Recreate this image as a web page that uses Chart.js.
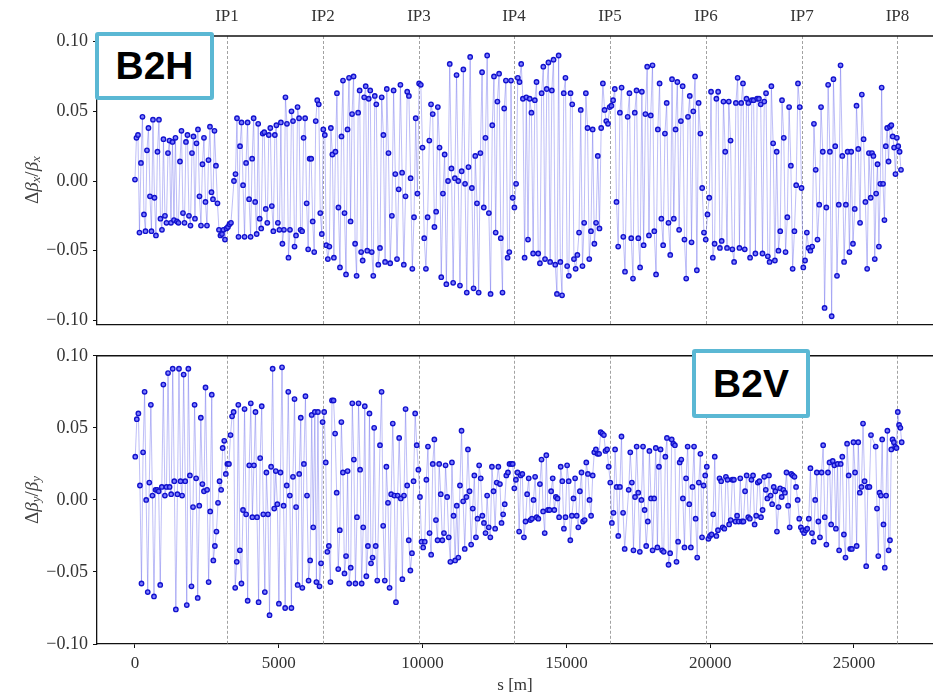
<!DOCTYPE html>
<html lang="en">
<head>
<meta charset="UTF-8">
<title>Beta beating B2</title>
<script src="https://cdn.jsdelivr.net/npm/chart.js"></script>
<style>
    body { margin: 0; background: #fff; }
    .wrap { position: relative; width: 933px; height: 695px; overflow: hidden; }
    .panel { position: absolute; left: 0; width: 933px; }
    #top { top: 0; height: 340px; }
    #bottom { top: 340px; height: 355px; }
    .tag {
        position: absolute;
        box-sizing: border-box;
        border: 4px solid #5bb8d4;
        border-radius: 3px;
        background: #fff;
        font-family: 'Liberation Sans', Arial, sans-serif;
        font-weight: bold;
        font-size: 39px;
        color: #000;
        display: flex;
        align-items: center;
        justify-content: center;
    }
</style>
</head>
<body>
<div class="wrap">
    <div class="panel" id="top"><canvas id="chart-x"></canvas></div>
    <div class="panel" id="bottom"><canvas id="chart-y"></canvas></div>
    <div class="tag" style="left:95px; top:32px; width:119px; height:68px;">B2H</div>
    <div class="tag" style="left:692px; top:349px; width:118px; height:69px;">B2V</div>
</div>
<script>
    const ipNames = ['IP1', 'IP2', 'IP3', 'IP4', 'IP5', 'IP6', 'IP7', 'IP8'];
    const ipS = [3200, 6537, 9875, 13178, 16516, 19854, 23192, 26512];
    const xTicks = [0, 5000, 10000, 15000, 20000, 25000];
    const yTicks = [-0.1, -0.05, 0, 0.05, 0.1];

    // horizontal plane, BPM readings grouped in stretches (first/last s of each stretch)
    const bxStart = [0, 3442, 8460, 17131, 25626];
    const bxEnd = [3338, 8391, 17038, 25581, 26634];
    const bx1 = [0.001, 0.031, 0.033, -0.037, 0.013, 0.046, -0.024, -0.036, 0.022, 0.038, -0.011, -0.036, 0.044, -0.012, -0.039, 0.021, 0.044, -0.027, -0.035, 0.030, -0.025, -0.030, 0.020, 0.029, -0.030, 0.028, -0.028, 0.031, -0.029, -0.030, 0.014, 0.036, -0.023, -0.030, 0.028, 0.033, -0.025, -0.032, 0.020, 0.032, -0.027, 0.027, 0.037, -0.011, -0.032, 0.012, 0.031, -0.015, -0.032, 0.015, 0.039, -0.008, -0.013, 0.036, 0.011, -0.016, -0.035, -0.039, -0.038, -0.035, -0.042, -0.034, -0.033, -0.031, -0.030];
    const bx2 = [0.000, 0.005, 0.045, -0.040, 0.025, 0.042, -0.003, -0.040, 0.013, 0.042, -0.013, -0.040, 0.016, 0.045, -0.015, -0.038, 0.041, -0.027, -0.034, 0.034, 0.035, -0.020, -0.030, 0.033, 0.038, -0.018, -0.036, 0.033, 0.040, -0.030, -0.035, 0.042, -0.045, -0.035, 0.060, 0.041, -0.055, -0.035, 0.050, 0.043, -0.047, -0.039, 0.053, 0.045, -0.035, -0.036, 0.031, 0.045, -0.016, -0.049, 0.016, 0.016, -0.029, -0.051, 0.043, 0.058, 0.055, -0.023, -0.038, 0.037, 0.033, -0.046, -0.056, -0.047, 0.038, 0.019, -0.055, 0.021, 0.063, -0.019, -0.062, 0.032, 0.072, -0.023, -0.067, 0.037, 0.074, -0.029, 0.048, 0.075, -0.045, -0.068, 0.049, 0.065, -0.051, -0.057, 0.060, 0.068, -0.050, 0.059, 0.065, -0.051, -0.068, 0.061, 0.055];
    const bx3 = [-0.060, -0.048, 0.060, 0.033, -0.058, 0.066, 0.020, -0.059, -0.025, 0.065, 0.005, -0.056, -0.006, 0.069, 0.006, -0.060, -0.011, 0.064, 0.061, 0.002, -0.063, -0.026, 0.045, -0.009, 0.070, 0.069, 0.024, -0.041, -0.063, -0.026, 0.029, 0.055, 0.048, -0.033, -0.022, 0.053, 0.024, -0.069, -0.009, 0.019, -0.074, 0.000, 0.084, 0.009, -0.073, 0.002, 0.076, 0.000, -0.075, 0.007, 0.080, -0.002, -0.080, 0.010, 0.089, -0.005, -0.077, 0.018, -0.016, -0.080, 0.020, 0.078, -0.019, 0.031, 0.090, -0.023, -0.081, 0.040, 0.075, -0.037, 0.057, 0.077, -0.041, -0.080, 0.052, 0.072, -0.055, -0.051, 0.072, -0.012, -0.019, -0.002, 0.074, 0.071, 0.084, 0.059, -0.055, 0.060, -0.042, 0.059, 0.049, -0.052, 0.058, 0.071, -0.052, -0.059, 0.063, 0.082, -0.056, 0.066, 0.085, -0.058, 0.065, 0.087, -0.060, -0.081, 0.090, -0.058, -0.082, 0.063, 0.074, -0.061, -0.068, 0.063, 0.055, -0.056, -0.063, -0.053, -0.037, 0.051, -0.061, -0.030, 0.063, 0.038, -0.056, -0.036, 0.037, -0.045, -0.030, 0.018, -0.034, 0.038, 0.070, 0.051, 0.043, 0.041, 0.053, 0.054, 0.058, 0.066, -0.015, -0.047, 0.049, 0.067, -0.040, -0.065];
    const bx4 = [0.046, 0.063, -0.041, -0.070, 0.049, 0.065, -0.041, -0.062, 0.064, -0.046, 0.048, 0.082, -0.039, 0.047, 0.083, -0.036, -0.067, 0.037, 0.070, -0.027, -0.046, 0.034, 0.056, -0.030, -0.053, 0.073, -0.027, 0.037, 0.071, -0.035, 0.043, 0.068, -0.042, -0.070, 0.046, 0.061, -0.044, 0.050, 0.075, -0.064, 0.056, 0.034, -0.005, -0.037, -0.042, -0.024, -0.012, 0.064, -0.055, -0.045, 0.059, 0.064, -0.048, -0.043, 0.057, 0.021, -0.048, 0.057, 0.029, -0.049, -0.058, 0.056, 0.074, -0.048, 0.056, 0.070, -0.049, 0.059, 0.056, -0.055, 0.058, 0.058, -0.052, 0.059, 0.059, 0.055, -0.052, 0.057, 0.063, -0.054, -0.058, 0.068, 0.027, -0.057, 0.021, -0.050, -0.036, 0.058, 0.031, -0.051, -0.026, 0.053, 0.011, -0.063, -0.036, -0.003, 0.070, 0.053, -0.005, -0.062, -0.057, -0.037, -0.048, -0.050, -0.047, 0.041, 0.008, -0.042, -0.017, 0.053, 0.021, -0.091, -0.019, 0.069, 0.021, -0.097, 0.073, 0.025, -0.068, -0.017, 0.083, 0.018, -0.058, -0.017, 0.021, -0.051, 0.021, -0.045, -0.020, 0.054, 0.023, -0.030, 0.062, 0.030, -0.015, -0.063, 0.020, -0.012];
    const bx5 = [0.020, 0.018, -0.056, -0.009, 0.012, -0.047, -0.002, 0.067, -0.002, -0.028, 0.025, 0.038, 0.014, 0.039, 0.040, 0.032, 0.024, 0.005, 0.031, 0.025, 0.021, 0.008];

    // vertical plane
    const byStart = [10, 8519, 17166, 25754];
    const byEnd = [8425, 17027, 25591, 26658];
    const by1 = [0.030, 0.056, 0.060, 0.010, -0.058, 0.033, 0.075, 0.000, -0.064, 0.012, 0.066, 0.003, -0.067, 0.007, 0.007, 0.006, -0.059, 0.009, 0.080, 0.003, 0.009, 0.088, 0.009, 0.004, 0.091, 0.013, -0.076, 0.004, 0.091, 0.013, 0.003, 0.087, 0.013, -0.073, 0.091, 0.017, -0.060, -0.005, 0.066, 0.015, -0.068, -0.004, 0.057, 0.011, 0.006, 0.078, 0.007, -0.057, -0.008, 0.073, -0.042, -0.032, -0.022, -0.002, 0.013, 0.007, 0.036, 0.041, 0.018, 0.025, 0.025, 0.045, 0.058, 0.061, -0.061, -0.043, 0.066, -0.035, -0.058, -0.007, 0.063, -0.010, -0.070, 0.024, 0.067, -0.012, 0.024, 0.061, -0.012, -0.071, 0.029, 0.065, -0.010, -0.064, 0.019, -0.010, -0.080, 0.023, 0.091, -0.006, 0.020, -0.003, -0.072, 0.019, 0.092, -0.004, -0.075, 0.010, 0.075, 0.003, -0.075, 0.016, 0.070, -0.005, -0.059, 0.018, 0.057, -0.061, 0.025, 0.072, 0.003, -0.056, -0.042, 0.059, -0.019, 0.061, -0.057, 0.061, -0.060, -0.044, 0.054, 0.061, 0.026, -0.036, -0.032, -0.057, 0.069, 0.069, 0.046, 0.005, -0.048, -0.021, 0.054, 0.019, -0.051, -0.039, 0.020, -0.058, -0.047, 0.067, 0.028, -0.058, -0.012, 0.067, 0.021, -0.058, -0.019, 0.065, -0.053, -0.032, 0.060, -0.044, -0.040, 0.050, -0.032, -0.056];
    const by2 = [0.038, 0.075, -0.018, -0.056, 0.023, -0.002, -0.061, 0.004, 0.053, 0.003, -0.071, 0.003, 0.043, 0.001, -0.055, 0.003, 0.063, 0.010, -0.028, -0.049, -0.037, 0.013, 0.060, 0.038, 0.021, 0.002, -0.029, -0.033, -0.029, 0.014, 0.037, -0.023, -0.038, 0.025, 0.042, -0.014, -0.028, 0.025, 0.004, -0.028, -0.023, 0.024, 0.002, -0.026, -0.043, 0.026, -0.011, -0.042, -0.004, -0.040, 0.010, 0.048, -0.001, -0.034, 0.002, 0.035, 0.006, -0.031, -0.006, 0.017, -0.026, -0.013, 0.024, 0.015, -0.011, -0.016, -0.023, 0.003, -0.019, -0.026, 0.023, 0.006, -0.020, 0.012, 0.023, 0.011, -0.016, -0.010, -0.003, 0.017, 0.019, 0.025, 0.025, 0.025, 0.008, 0.014, 0.019, -0.022, 0.017, 0.018, -0.026, -0.015, 0.004, 0.015, -0.014, -0.013, 0.000, 0.016, -0.012, -0.013, 0.011, 0.028, -0.008, -0.023, 0.031, -0.007, -0.007, 0.006, 0.015, -0.007, 0.002, 0.001, -0.012, 0.023, 0.013, -0.020, -0.012, 0.024, 0.013, -0.028, -0.011, 0.001, 0.015, -0.011, -0.019, 0.006, 0.019, -0.015, -0.014, 0.026, 0.018, 0.000, -0.011, 0.017, 0.033, 0.035, 0.032, 0.032, 0.047, 0.046, 0.045, 0.034, 0.035, 0.023, 0.012, -0.016, -0.009, 0.035, 0.009, -0.025, 0.009, 0.044, -0.009, -0.034];
    const by3 = [0.007, 0.033, 0.012, -0.035, 0.002, 0.037, 0.005, -0.036, 0.000, 0.037, -0.007, -0.032, -0.015, 0.034, 0.001, -0.035, 0.001, 0.036, -0.033, 0.023, 0.035, -0.035, -0.036, 0.030, 0.043, -0.045, -0.037, 0.042, 0.039, 0.038, -0.043, -0.029, 0.026, 0.028, 0.001, -0.033, 0.015, 0.037, -0.003, -0.033, 0.009, 0.037, -0.013, -0.040, 0.012, 0.032, -0.026, 0.010, 0.017, 0.023, -0.027, -0.025, -0.024, -0.010, 0.030, -0.025, -0.021, 0.015, 0.013, -0.019, -0.020, 0.016, 0.014, -0.017, -0.014, 0.014, 0.014, -0.015, -0.011, -0.015, 0.015, -0.015, -0.015, 0.006, 0.017, -0.012, -0.013, 0.014, 0.017, -0.017, -0.011, 0.012, 0.013, -0.012, -0.007, 0.016, 0.007, 0.001, 0.017, 0.003, -0.003, 0.009, 0.006, -0.022, -0.005, 0.008, 0.002, 0.007, 0.005, 0.019, -0.004, -0.019, 0.018, 0.017, 0.016, 0.009, 0.000, -0.013, -0.019, -0.021, -0.023, -0.021, -0.020, -0.013, 0.022, -0.023, -0.029, 0.000, 0.019, -0.015, -0.026, 0.019, 0.038, -0.012, -0.031, 0.019, 0.026, -0.017, 0.027, 0.024, -0.020, 0.025, -0.035, 0.025, 0.030, -0.024, -0.040, 0.039, 0.017, -0.034, -0.034, 0.040, 0.019, -0.032, 0.040, 0.005, 0.009, 0.053, 0.013, -0.046, 0.009, 0.009, 0.045];
    const by4 = [0.037, -0.006, -0.039, 0.005, 0.003, 0.042, -0.017, -0.047, 0.003, 0.048, -0.035, -0.028, 0.035, 0.042, 0.040, 0.037, 0.036, 0.061, 0.052, 0.050, 0.040];

    const serif = "'Liberation Serif', 'DejaVu Serif', serif";
    const axisCol = '#111';
    const textCol = '#333';

    // BPMs sit evenly within each stretch
    function buildPoints(segs, starts, ends) {
        const pts = [];
        segs.forEach(function (vals, k) {
            const step = (ends[k] - starts[k]) / (vals.length - 1);
            vals.forEach(function (v, i) {
                pts.push({ x: starts[k] + i * step, y: v });
            });
        });
        return pts;
    }

    function fmtY(v) {
        if (Math.abs(v) < 1e-9) return '0.00';
        return (v < 0 ? '\u2212' : '') + Math.abs(v).toFixed(2);
    }

    function drawYTitle(ctx, cx, cy, sub) {
        const parts = [
            ['\u0394', '19px ' + serif, 0],
            ['\u03b2', 'italic 19px ' + serif, 0],
            [sub, 'italic 13px ' + serif, 4],
            ['/', '19px ' + serif, 0],
            ['\u03b2', 'italic 19px ' + serif, 0],
            [sub, 'italic 13px ' + serif, 4]
        ];
        ctx.save();
        ctx.translate(cx, cy);
        ctx.rotate(-Math.PI / 2);
        let w = 0;
        parts.forEach(function (p) { ctx.font = p[1]; w += ctx.measureText(p[0]).width; });
        let xx = -w / 2;
        ctx.fillStyle = '#444';
        ctx.textBaseline = 'middle';
        ctx.textAlign = 'left';
        parts.forEach(function (p) {
            ctx.font = p[1];
            ctx.fillText(p[0], xx, p[2]);
            xx += ctx.measureText(p[0]).width;
        });
        ctx.restore();
    }

    function framePlugin(isTop, sub) {
        return {
            id: 'frame',
            beforeDatasetsDraw: function (chart) {
                const ctx = chart.ctx, a = chart.chartArea, x = chart.scales.x;
                ctx.save();
                ctx.strokeStyle = '#8a8a8a';
                ctx.lineWidth = 0.8;
                ctx.setLineDash([3, 2]);
                ipS.forEach(function (s) {
                    const px = Math.round(x.getPixelForValue(s)) + 0.5;
                    ctx.beginPath();
                    ctx.moveTo(px, a.top);
                    ctx.lineTo(px, a.bottom);
                    ctx.stroke();
                });
                ctx.restore();
            },
            afterDraw: function (chart) {
                const ctx = chart.ctx, a = chart.chartArea, x = chart.scales.x;
                ctx.save();
                // top spine
                ctx.strokeStyle = axisCol;
                ctx.lineWidth = 1.6;
                ctx.beginPath();
                ctx.moveTo(a.left, a.top);
                ctx.lineTo(a.right, a.top);
                ctx.stroke();
                ctx.fillStyle = textCol;
                ctx.font = '17px ' + serif;
                ctx.textAlign = 'center';
                ctx.textBaseline = 'middle';
                if (isTop) {
                    ipS.forEach(function (s, i) {
                        ctx.fillText(ipNames[i], x.getPixelForValue(s), a.top - 19);
                    });
                } else {
                    ctx.fillText('s [m]', (a.left + a.right) / 2, a.bottom + 42);
                }
                ctx.restore();
                drawYTitle(ctx, 33, (a.top + a.bottom) / 2, sub);
            }
        };
    }

    function dataset(points) {
        return {
            data: points,
            showLine: true,
            borderColor: 'rgba(95, 95, 235, 0.45)',
            borderWidth: 0.9,
            pointRadius: 2.2,
            pointBorderWidth: 1.4,
            pointBorderColor: 'rgb(18, 18, 205)',
            pointBackgroundColor: 'rgba(110, 110, 255, 0.85)',
            tension: 0
        };
    }

    function yScale(min, max) {
        return {
            min: min,
            max: max,
            afterBuildTicks: function (s) { s.ticks = yTicks.map(function (v) { return { value: v }; }); },
            afterFit: function (s) { s.width = 97; },
            ticks: { font: { family: serif, size: 18 }, color: textCol, padding: 5, callback: fmtY },
            grid: { drawOnChartArea: false, tickLength: 4, color: axisCol },
            border: { color: axisCol, width: 1.3 }
        };
    }

    const xMin = -1320, xMax = 27747;

    new Chart(document.getElementById('chart-x'), {
        type: 'scatter',
        data: { datasets: [dataset(buildPoints([bx1, bx2, bx3, bx4, bx5], bxStart, bxEnd))] },
        options: {
            responsive: true,
            maintainAspectRatio: false,
            animation: false,
            events: [],
            layout: { autoPadding: false, padding: { top: 36, left: 0, right: 0, bottom: 0 } },
            plugins: { legend: { display: false }, tooltip: { enabled: false } },
            scales: {
                x: {
                    type: 'linear', min: xMin, max: xMax,
                    afterFit: function (s) { s.height = 14; },
                    ticks: { display: false },
                    grid: { display: false },
                    border: { color: axisCol, width: 1.3 }
                },
                y: yScale(-0.1027, 0.104)
            }
        },
        plugins: [framePlugin(true, 'x')]
    });

    new Chart(document.getElementById('chart-y'), {
        type: 'scatter',
        data: { datasets: [dataset(buildPoints([by1, by2, by3, by4], byStart, byEnd))] },
        options: {
            responsive: true,
            maintainAspectRatio: false,
            animation: false,
            events: [],
            layout: { autoPadding: false, padding: { top: 15, left: 0, right: 0, bottom: 0 } },
            plugins: { legend: { display: false }, tooltip: { enabled: false } },
            scales: {
                x: {
                    type: 'linear', min: xMin, max: xMax,
                    afterBuildTicks: function (s) { s.ticks = xTicks.map(function (v) { return { value: v }; }); },
                    afterFit: function (s) { s.height = 51; },
                    ticks: { font: { family: serif, size: 17 }, color: textCol, padding: 5, maxRotation: 0, callback: function (v) { return String(v); } },
                    grid: { drawOnChartArea: false, tickLength: 4, color: axisCol },
                    border: { color: axisCol, width: 1.3 }
                },
                y: yScale(-0.1, 0.1)
            }
        },
        plugins: [framePlugin(false, 'y')]
    });
</script>
</body>
</html>
